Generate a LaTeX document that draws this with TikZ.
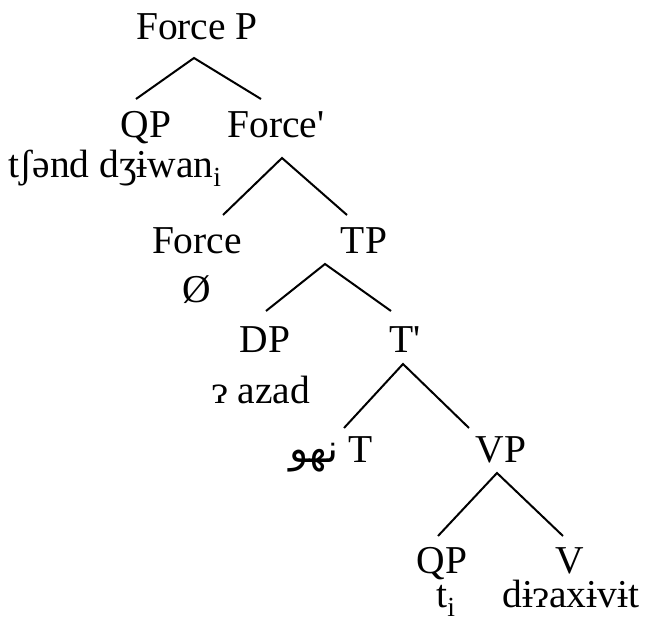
\documentclass[tikz,border=0pt]{standalone}
\usepackage{fontspec}
\setmainfont{Liberation Serif}
\newfontfamily\arabicfont[Script=Arabic]{DejaVu Sans}
\TeXXeTstate=1
\usetikzlibrary{positioning}

\begin{document}
\begin{tikzpicture}[x=1pt, y=-1pt,
    lbl/.style={anchor=base, inner sep=0pt, font=\fontsize{39.5}{44}\selectfont},
    branch/.style={line width=2pt}]
  \useasboundingbox (0,0) rectangle (646,626);

  % Force P and its daughters
  \node[lbl] (forcep) at (197,40) {Force P};
  \node[lbl] (qp) at (146,138) {QP};
  \node[lbl] (forcebar) at (276,138) {Force\textquotesingle};
  \node[lbl] (qpword) at (115,177) {tʃənd dʒɨwan\textsubscript{i}};
  \coordinate (forcep-top) at (194,58);
  \coordinate (forcep-l) at (136,99);
  \coordinate (forcep-r) at (261,99);
  \draw[branch] (forcep-l) -- (forcep-top) -- (forcep-r);

  % Force' : Force and TP
  \node[lbl] (force) at (197,253) {Force};
  \node[lbl] (tp) at (364,253) {TP};
  \node[lbl] (null) at (197,302) {Ø};
  \coordinate (forcebar-top) at (282,158);
  \coordinate (forcebar-l) at (223,215);
  \coordinate (forcebar-r) at (347,215);
  \draw[branch] (forcebar-l) -- (forcebar-top) -- (forcebar-r);

  % TP : DP and T'
  \node[lbl] (dp) at (265,352) {DP};
  \node[lbl] (tbar) at (405,352) {T\textquotesingle};
  \node[lbl] (dpword) at (261,403) {ɂ azad};
  \coordinate (tp-top) at (325,264);
  \coordinate (tp-l) at (266,311);
  \coordinate (tp-r) at (391,311);
  \draw[branch] (tp-l) -- (tp-top) -- (tp-r);

  % T' : T and VP
  \node[lbl] (t) at (331,462) {{\arabicfont\beginR نهو\endR} T};
  \node[lbl] (vp) at (501,462) {VP};
  \coordinate (tbar-top) at (403,364);
  \coordinate (tbar-l) at (344,428);
  \coordinate (tbar-r) at (469,428);
  \draw[branch] (tbar-l) -- (tbar-top) -- (tbar-r);

  % VP : QP and V
  \node[lbl] (qplow) at (442,573) {QP};
  \node[lbl] (v) at (570,573) {V};
  \node[lbl] (trace) at (446,607) {t\textsubscript{i}};
  \node[lbl] (verb) at (571,607) {dɨɂaxɨvɨt};
  \coordinate (vp-top) at (497,473);
  \coordinate (vp-l) at (438,536);
  \coordinate (vp-r) at (563,536);
  \draw[branch] (vp-l) -- (vp-top) -- (vp-r);
\end{tikzpicture}
\end{document}
